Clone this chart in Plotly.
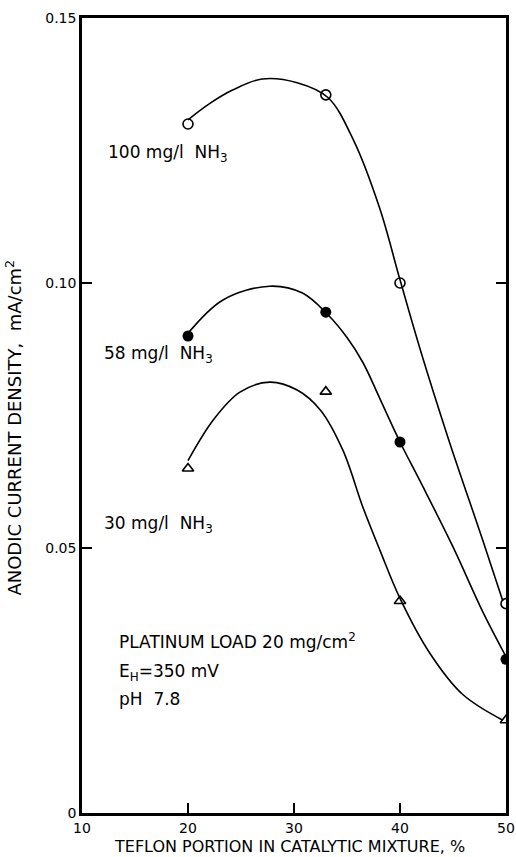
import plotly.graph_objects as go

# measured points
x_pts = [20, 33, 40, 50]
y100 = [0.130, 0.1355, 0.100, 0.0395]
y58 = [0.090, 0.0945, 0.070, 0.029]
y30 = [0.065, 0.0795, 0.040, 0.0175]

# hand-drawn smooth curves
c100_x = [20, 22, 24.2, 27, 30.3, 33.2, 35.6, 38.1, 40, 41.9, 44.6, 47.8, 49.7]
c100_y = [0.1308, 0.1338, 0.1364, 0.1385, 0.1378, 0.1350, 0.1270, 0.1140, 0.1006, 0.0875, 0.0704, 0.0515, 0.0400]
c58_x = [20, 23.3, 27.7, 30.8, 33.2, 35, 36.5, 38.1, 40, 41.9, 45, 47.8, 50]
c58_y = [0.0905, 0.0968, 0.0994, 0.0981, 0.0940, 0.0897, 0.0850, 0.0782, 0.0700, 0.0626, 0.0502, 0.0380, 0.0295]
c30_x = [20, 22.4, 24.9, 27.7, 30.3, 32.5, 34.6, 36.5, 38.1, 40, 42.8, 45.9, 49.7]
c30_y = [0.0665, 0.0742, 0.0794, 0.0813, 0.0798, 0.0760, 0.0685, 0.0577, 0.0496, 0.0405, 0.0302, 0.0224, 0.0175]

x_ticks = [10, 20, 30, 40, 50]
y_ticks = [0, 0.05, 0.10, 0.15]
y_ticktext = ["0", "0.05", "0.10", "0.15"]

FONT = "DejaVu Sans"
fig = go.Figure()
for cx, cy in [(c100_x, c100_y), (c58_x, c58_y), (c30_x, c30_y)]:
    fig.add_trace(go.Scatter(x=cx, y=cy, mode="lines",
                             line=dict(color="black", width=1.6, shape="spline", smoothing=1.0),
                             showlegend=False, hoverinfo="skip"))

fig.add_trace(go.Scatter(x=x_pts, y=y100, mode="markers",
                         marker=dict(symbol="circle-open", size=10, color="black", line=dict(width=1.6)),
                         showlegend=False))
fig.add_trace(go.Scatter(x=x_pts, y=y58, mode="markers",
                         marker=dict(symbol="circle", size=11, color="black"), showlegend=False))
fig.add_trace(go.Scatter(x=x_pts, y=y30, mode="markers",
                         marker=dict(symbol="triangle-up-open", size=10, color="black", line=dict(width=1.6)),
                         showlegend=False))
# right-side ticks
fig.add_trace(go.Scatter(x=[None], y=[None], yaxis="y2", showlegend=False))

fig.update_layout(
    width=516, height=857,
    margin=dict(l=82, r=10, t=18, b=44),
    paper_bgcolor="white", plot_bgcolor="white",
    font=dict(family=FONT, color="black", size=14),
    xaxis=dict(range=[10, 50], tickvals=x_ticks, ticks="inside", ticklen=10, tickwidth=1.6, tickcolor="black",
               showline=True, linecolor="black", linewidth=2.5, mirror=True, showgrid=False, zeroline=False,
               tickfont=dict(size=14), automargin=False),
    yaxis=dict(range=[0, 0.15], tickvals=y_ticks, ticktext=y_ticktext, ticks="inside", ticklen=10, tickwidth=1.6,
               tickcolor="black", showline=True, linecolor="black", linewidth=2.5, mirror=True, showgrid=False,
               zeroline=False, tickfont=dict(size=14), automargin=False),
    yaxis2=dict(range=[0, 0.15], overlaying="y", side="right", tickvals=[0.05, 0.10], ticks="inside", ticklen=10,
                tickwidth=1.6, tickcolor="black", showticklabels=False, showgrid=False, zeroline=False,
                showline=False, automargin=False),
)

# axis titles
fig.add_annotation(xref="paper", yref="paper", x=0.49, y=-0.0425, text="TEFLON PORTION IN CATALYTIC MIXTURE, %",
                   showarrow=False, xanchor="center", yanchor="middle", font=dict(size=16, family=FONT))
fig.add_annotation(xref="paper", yref="paper", x=-0.160, y=0.485, text="ANODIC CURRENT DENSITY,  mA/cm<sup>2</sup>",
                   showarrow=False, xanchor="center", yanchor="middle", textangle=-90, font=dict(size=18, family=FONT))

ann = [
    (12.3, 0.1245, "100 mg/l  NH<sub>3</sub>"),
    (11.9, 0.0865, "58 mg/l  NH<sub>3</sub>"),
    (11.9, 0.0545, "30 mg/l  NH<sub>3</sub>"),
    (13.3, 0.0325, "PLATINUM LOAD 20 mg/cm<sup>2</sup>"),
    (13.3, 0.0265, "E<sub>H</sub>=350 mV"),
    (13.3, 0.0215, "pH  7.8"),
]
for x, y, t in ann:
    fig.add_annotation(x=x, y=y, text=t, showarrow=False, xanchor="left", yanchor="middle",
                       font=dict(size=17, family=FONT))

fig.write_html("out.html")
